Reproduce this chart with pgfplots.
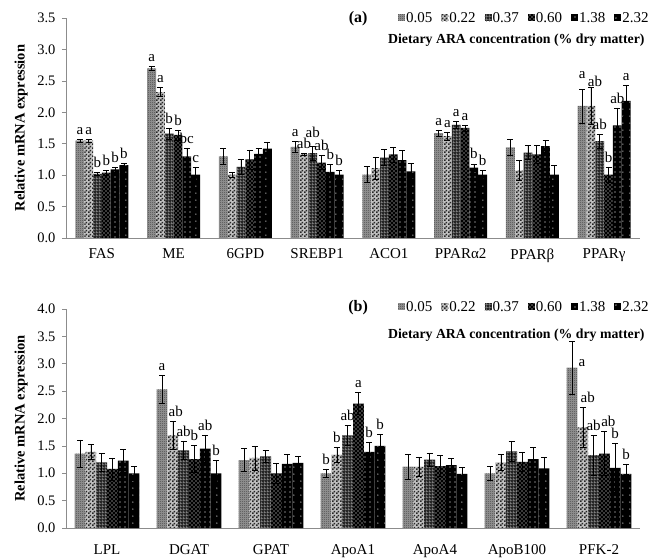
\documentclass[border=0pt]{standalone}
\usepackage{fontspec}
\setmainfont{Liberation Serif}
\usepackage{pgfplots}
\pgfplotsset{compat=1.18}
\usepackage{pgfplotstable}
\usetikzlibrary{patterns}

\pgfdeclarepatternformonly{finedots}{\pgfqpoint{-0.5pt}{-0.5pt}}{\pgfqpoint{0.5pt}{0.5pt}}{\pgfqpoint{2pt}{2pt}}{%
  \pgfpathrectangle{\pgfqpoint{-0.5pt}{-0.5pt}}{\pgfqpoint{1pt}{1pt}}\pgfusepath{fill}}
\pgfdeclarepatternformonly{checker}{\pgfqpoint{0pt}{0pt}}{\pgfqpoint{4pt}{4pt}}{\pgfqpoint{4pt}{4pt}}{%
  \pgfpathrectangle{\pgfqpoint{0pt}{0pt}}{\pgfqpoint{2pt}{2pt}}\pgfusepath{fill}
  \pgfpathrectangle{\pgfqpoint{2pt}{2pt}}{\pgfqpoint{2pt}{2pt}}\pgfusepath{fill}}
\pgfdeclarepatternformonly{finegrid}{\pgfqpoint{0pt}{0pt}}{\pgfqpoint{3pt}{3pt}}{\pgfqpoint{3pt}{3pt}}{%
  \pgfpathrectangle{\pgfqpoint{0pt}{0pt}}{\pgfqpoint{3pt}{0.8pt}}\pgfusepath{fill}
  \pgfpathrectangle{\pgfqpoint{0pt}{0pt}}{\pgfqpoint{0.8pt}{3pt}}\pgfusepath{fill}}
\pgfdeclarepatternformonly{meddots}{\pgfqpoint{-1pt}{-1pt}}{\pgfqpoint{3pt}{3pt}}{\pgfqpoint{4pt}{4pt}}{%
  \pgfpathcircle{\pgfqpoint{0pt}{0pt}}{0.7pt}\pgfusepath{fill}
  \pgfpathcircle{\pgfqpoint{2pt}{2pt}}{0.7pt}\pgfusepath{fill}}
\pgfdeclarepatternformonly{sparsedots}{\pgfqpoint{-1pt}{-1pt}}{\pgfqpoint{4pt}{4pt}}{\pgfqpoint{5pt}{5pt}}{%
  \pgfpathcircle{\pgfqpoint{0pt}{0pt}}{0.7pt}\pgfusepath{fill}}
\pgfdeclarepatternformonly{sparserdots}{\pgfqpoint{-1pt}{-1pt}}{\pgfqpoint{6pt}{6pt}}{\pgfqpoint{7pt}{7pt}}{%
  \pgfpathcircle{\pgfqpoint{0pt}{0pt}}{0.7pt}\pgfusepath{fill}}

% panel (a): y = mean, e = SE, l = letter, h/v = letter offset (pt)
\pgfplotstableread{
x    y1   e1  l1 h1 v1  y2   e2  l2 h2 v2  y3   e3  l3 h3 v3  y4   e4  l4 h4 v4  y5   e5  l5 h5 v5  y6   e6  l6 h6 v6
0.5  1.55 .02 a  0  0   1.55 .02 a  0  0   1.02 .02 b  0  0   1.04 .04 b  0  0   1.09 .04 b  0  0   1.16 .03 b  0  0
1.5  2.70 .03 a  0  0   2.32 .07 a  0  0   1.66 .09 b  0  0   1.64 .08 b  0  0   1.30 .12 bc 0  0   1.01 .11 c  0  0
2.5  1.30 .13 {} 0  0   1.01 .04 {} 0  0   1.13 .12 {} 0  0   1.25 .15 {} 0  0   1.34 .08 {} 0  0   1.42 .11 {} 0  0
3.5  1.45 .09 a  0  0   1.33 .02 ab 0  0   1.35 .11 ab 0  4   1.20 .11 ab 0  0   1.05 .12 b  0  0   1.01 .07 b  0  0
4.5  1.01 .13 {} 0  0   1.11 .17 {} 0  0   1.28 .13 {} 0  0   1.33 .12 {} 0  0   1.24 .15 {} 0  0   1.06 .13 {} 0  0
5.5  1.67 .05 a  0  0   1.62 .06 a  0  0   1.80 .05 a  0  0   1.75 .05 a  0  0   1.12 .06 b  0  0   1.01 .07 b  0  0
6.5  1.44 .13 {} 0  0   1.07 .16 {} 0  0   1.36 .11 {} 0  0   1.33 .14 {} 0  0   1.46 .09 {} 0  0   1.01 .14 {} 0  0
7.5  2.10 .27 a  0  6   2.10 .29 ab 4  -4  1.54 .11 ab 0  0   1.01 .12 b  0  0   1.79 .28 ab 0  0   2.18 .25 a  0  0
}\tabA

% panel (b)
\pgfplotstableread{
x    y1   e1  l1 h1 v1  y2   e2  l2 h2 v2  y3   e3  l3 h3 v3  y4   e4  l4 h4 v4  y5   e5  l5 h5 v5  y6   e6  l6 h6 v6
0.5  1.36 .25 {} 0  0   1.39 .13 {} 0  0   1.20 .16 {} 0  0   1.08 .20 {} 0  0   1.23 .21 {} 0  0   1.00 .12 {} 0  0
1.5  2.53 .25 a  0  0   1.69 .26 ab 3  0   1.42 .17 ab 0  0   1.26 .25 b  0  0   1.45 .25 ab 0  0   1.00 .24 b  0  0
2.5  1.24 .21 {} 0  0   1.28 .22 {} 0  0   1.31 .11 {} 0  0   1.00 .18 {} 0  0   1.17 .18 {} 0  0   1.19 .12 {} 0  0
3.5  1.00 .08 b  0  0   1.34 .14 b  0  0   1.69 .18 ab 0  0   2.27 .20 a  0  0   1.39 .18 b  0  0   1.50 .21 b  0  0
4.5  1.12 .23 {} 0  0   1.12 .18 {} 0  0   1.25 .12 {} 0  0   1.13 .19 {} 0  0   1.15 .12 {} 0  0   0.99 .12 {} 0  0
5.5  1.00 .12 {} 0  0   1.20 .14 {} 0  0   1.40 .18 {} 0  0   1.21 .18 {} 0  0   1.26 .21 {} 0  0   1.09 .20 {} 0  0
6.5  2.93 .48 a  10 -30 1.84 .37 ab 5  0   1.33 .36 ab 0  0   1.36 .40 ab 4  0   1.10 .45 b  0  0   0.99 .18 b  0  0
}\tabB

\pgfplotsset{
  sq/.style={legend image code/.code={\path[##1] (0pt,-3.5pt) rectangle (7pt,3.5pt);}},
  s1/.style={fill=black!45, draw=none, postaction={pattern=finedots, pattern color=black!70}, sq},
  s2/.style={fill=white!75!black, draw=none, postaction={pattern=checker, pattern color=black!85}, sq},
  s3/.style={fill=black!85, draw=none, postaction={pattern=finegrid, pattern color=black!45}, sq},
  s4/.style={fill=black, draw=none, postaction={pattern=meddots, pattern color=white}, sq},
  s5/.style={fill=black, draw=none, postaction={pattern=sparsedots, pattern color=white}, sq},
  s6/.style={fill=black, draw=none, postaction={pattern=sparserdots, pattern color=white}, sq},
  lbl/.style n args={2}{
    visualization depends on={#2*\thisrow{e#1}+\thisrow{v#1}+4 \as \errshift},
    visualization depends on={\thisrow{h#1} \as \lx}},
  common/.style={
    scale only axis, width=574pt, clip=false,
    ybar=0pt,
    axis x line=bottom, axis y line=left,
    axis line style={-, black!45, line width=0.7pt},
    xmin=0, ymin=0,
    xtick style={draw=none},
    ytick style={black!45, line width=0.7pt},
    tick align=outside, major tick length=4pt,
    extra x tick style={tick style={black!45, line width=0.7pt}, major tick length=5pt, grid=none},
    extra x tick labels={},
    x tick label style={font=\fontsize{15}{16}\selectfont, yshift=-3pt},
    y tick label style={font=\fontsize{14.5}{15}\selectfont, xshift=-3pt},
    /pgf/number format/assume math mode=true,
    yticklabel style={/pgf/number format/.cd, fixed, fixed zerofill, precision=1},
    ylabel={Relative mRNA expression},
    every axis y label/.style={at={(axis description cs:-0.078,0.5)}, rotate=90, anchor=center,
       font=\bfseries\fontsize{14.5}{15}\selectfont},
    error bars/y dir=both, error bars/y explicit,
    error bars/error bar style={black, line width=0.6pt},
    error bars/error mark options={rotate=90, mark size=3pt, black, line width=0.6pt},
    nodes near coords, point meta=explicit symbolic,
    nodes near coords style={font=\fontsize{15}{15}\selectfont, inner sep=0.5pt, black, anchor=south,
       yshift=\errshift pt, xshift=\lx pt},
    legend columns=6,
    legend style={draw=none, fill=none, font=\fontsize{15}{16}\selectfont, anchor=east,
      /tikz/every odd column/.append style={column sep=0pt},
      /tikz/every even column/.append style={column sep=8pt}, inner sep=0pt,
      nodes={inner sep=1pt}},
  },
}

\begin{document}
\begin{tikzpicture}
\useasboundingbox (0,0) rectangle (650pt,557pt);

% ---------- panel (a)
\begin{axis}[common,
  at={(66pt,319pt)}, anchor=south west,
  height=220pt, bar width=8.8pt,
  xmax=8, ymax=3.5, ytick={0,0.5,...,3.5},
  xtick={0.5,1.5,...,7.5},
  xticklabels={FAS,ME,6GPD,SREBP1,ACO1,PPARα2,PPARβ,PPARγ},
  extra x ticks={0,1,...,8},
  legend style={at={(1.017,1.0)}},
]
\addplot[s1, lbl={1}{62.857}] table[x=x,y=y1,y error=e1,meta=l1]{\tabA};
\addplot[s2, lbl={2}{62.857}] table[x=x,y=y2,y error=e2,meta=l2]{\tabA};
\addplot[s3, lbl={3}{62.857}] table[x=x,y=y3,y error=e3,meta=l3]{\tabA};
\addplot[s4, lbl={4}{62.857}] table[x=x,y=y4,y error=e4,meta=l4]{\tabA};
\addplot[s5, lbl={5}{62.857}] table[x=x,y=y5,y error=e5,meta=l5]{\tabA};
\addplot[s6, lbl={6}{62.857}] table[x=x,y=y6,y error=e6,meta=l6]{\tabA};
\legend{0.05,0.22,0.37,0.60,1.38,2.32}
\node[font=\bfseries\fontsize{16}{16}\selectfont] at (rel axis cs:0.509,0.997) {(a)};
\node[anchor=east, font=\bfseries\fontsize{13.8}{14}\selectfont] at (rel axis cs:1.014,0.90) {Dietary ARA concentration (\% dry matter)};
\end{axis}

% ---------- panel (b)
\begin{axis}[common,
  at={(66pt,29pt)}, anchor=south west,
  height=219pt, bar width=10.8pt,
  xmax=7, ymax=4.0, ytick={0,0.5,...,4.0},
  xtick={0.5,1.5,...,6.5},
  xticklabels={LPL,DGAT,GPAT,ApoA1,ApoA4,ApoB100,PFK-2},
  extra x ticks={0,1,...,7},
  x tick label style={yshift=-6pt},
  legend style={at={(1.017,1.01)}},
]
\addplot[s1, lbl={1}{54.75}] table[x=x,y=y1,y error=e1,meta=l1]{\tabB};
\addplot[s2, lbl={2}{54.75}] table[x=x,y=y2,y error=e2,meta=l2]{\tabB};
\addplot[s3, lbl={3}{54.75}] table[x=x,y=y3,y error=e3,meta=l3]{\tabB};
\addplot[s4, lbl={4}{54.75}] table[x=x,y=y4,y error=e4,meta=l4]{\tabB};
\addplot[s5, lbl={5}{54.75}] table[x=x,y=y5,y error=e5,meta=l5]{\tabB};
\addplot[s6, lbl={6}{54.75}] table[x=x,y=y6,y error=e6,meta=l6]{\tabB};
\legend{0.05,0.22,0.37,0.60,1.38,2.32}
\node[font=\bfseries\fontsize{16}{16}\selectfont] at (rel axis cs:0.509,1.005) {(b)};
\node[anchor=east, font=\bfseries\fontsize{13.8}{14}\selectfont] at (rel axis cs:1.014,0.881) {Dietary ARA concentration (\% dry matter)};
\end{axis}
\end{tikzpicture}
\end{document}
